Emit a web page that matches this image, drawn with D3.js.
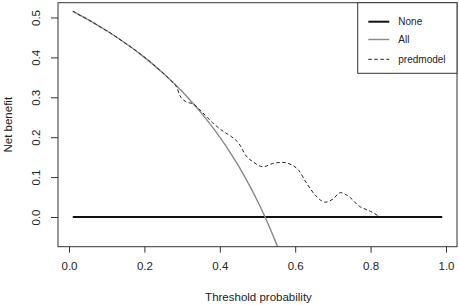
<!DOCTYPE html>
<html>
<head>
<meta charset="utf-8">
<script src="https://cdn.jsdelivr.net/npm/d3@7"></script>
<style>
  html, body { margin: 0; padding: 0; background: #fff; }
  svg { display: block; font-family: "Liberation Sans", Arial, sans-serif; }
</style>
</head>
<body>
<svg id="chart" width="459" height="305"></svg>
<script>
// ---- data ----
const noneThresholds = [0.01, 0.99];
const noneValues = [0, 0];

const allThresholds = [0.01, 0.05, 0.10, 0.15, 0.20, 0.25, 0.30, 0.325, 0.35, 0.375, 0.40, 0.425, 0.45, 0.475, 0.50, 0.52, 0.55, 0.56];
const allValues     = [0.5152, 0.4947, 0.4667, 0.4353, 0.4000, 0.3600, 0.3143, 0.2889, 0.2615, 0.2320, 0.2000, 0.1652, 0.1273, 0.0857, 0.0400, 0.0000, -0.0667, -0.0909];

const modelThresholds = [0.01, 0.03, 0.05, 0.07, 0.09, 0.11, 0.13, 0.15, 0.17, 0.19, 0.21, 0.23, 0.25, 0.27, 0.285, 0.295, 0.31, 0.33, 0.355, 0.38, 0.41, 0.43, 0.45, 0.47, 0.49, 0.515, 0.54, 0.565, 0.59, 0.61, 0.63, 0.655, 0.68, 0.70, 0.72, 0.74, 0.77, 0.80, 0.82];
const modelValues     = [0.516, 0.505, 0.495, 0.484, 0.472, 0.461, 0.448, 0.435, 0.422, 0.408, 0.393, 0.377, 0.360, 0.342, 0.326, 0.303, 0.289, 0.283, 0.261, 0.237, 0.214, 0.202, 0.185, 0.153, 0.137, 0.126, 0.134, 0.137, 0.131, 0.116, 0.085, 0.053, 0.037, 0.045, 0.061, 0.053, 0.027, 0.014, 0.003];

const xTicks = [0, 0.2, 0.4, 0.6, 0.8, 1.0];
const yTicks = [0, 0.1, 0.2, 0.3, 0.4, 0.5];
const legendLabels = ["None", "All", "predmodel"];

// ---- layout ----
const svg = d3.select("#chart");
const plot = { left: 58, right: 457, top: 2.7, bottom: 246.7 };
const x = d3.scaleLinear().domain([-0.0292, 1.0292]).range([plot.left, plot.right]);
const y = d3.scaleLinear().domain([-0.0744, 0.537]).range([plot.bottom, plot.top]);

svg.append("defs").append("clipPath").attr("id", "clip")
  .append("rect")
  .attr("x", plot.left).attr("y", plot.top)
  .attr("width", plot.right - plot.left).attr("height", plot.bottom - plot.top);

const fmt = d3.format(".1f");

// X axis
const xAxis = svg.append("g").attr("transform", `translate(0,${plot.bottom})`)
  .call(d3.axisBottom(x).tickValues(xTicks).tickFormat(fmt).tickSize(6).tickPadding(9));
xAxis.select(".domain").attr("d", `M${x(0)},0H${x(1)}`).attr("stroke", "#333");
xAxis.selectAll(".tick line").attr("stroke", "#333");
xAxis.selectAll(".tick text").attr("font-size", "11.5px").attr("fill", "#222")
  .attr("font-family", "Liberation Sans, Arial, sans-serif");
xAxis.select(".domain").remove();

// Y axis
const yAxis = svg.append("g").attr("transform", `translate(${plot.left},0)`)
  .call(d3.axisLeft(y).tickValues(yTicks).tickFormat(fmt).tickSize(7).tickPadding(9));
yAxis.select(".domain").remove();
yAxis.selectAll(".tick line").attr("stroke", "#333");
yAxis.selectAll(".tick text")
  .attr("font-size", "11.5px").attr("fill", "#222")
  .attr("font-family", "Liberation Sans, Arial, sans-serif")
  .attr("text-anchor", "middle")
  .attr("x", null).attr("dy", null)
  .attr("transform", "translate(-22,0) rotate(-90)")
  .attr("dominant-baseline", "central");

// Axis titles
svg.append("text").attr("x", (plot.left + plot.right) / 2 + 1).attr("y", 301)
  .attr("text-anchor", "middle").attr("font-size", "11.5px").attr("fill", "#222")
  .text("Threshold probability");
svg.append("text")
  .attr("transform", `translate(12,${(plot.top + plot.bottom) / 2}) rotate(-90)`)
  .attr("text-anchor", "middle").attr("font-size", "11.5px").attr("fill", "#222")
  .text("Net benefit");

// Lines
const g = svg.append("g").attr("clip-path", "url(#clip)");
const lineGen = d3.line().x(d => x(d[0])).y(d => y(d[1])).curve(d3.curveMonotoneX);

g.append("path")
  .datum(noneThresholds.map((t, i) => [t, noneValues[i]]))
  .attr("d", d3.line().x(d => x(d[0])).y(d => y(d[1])))
  .attr("fill", "none").attr("stroke", "#111").attr("stroke-width", 2);

g.append("path")
  .datum(allThresholds.map((t, i) => [t, allValues[i]]))
  .attr("d", lineGen)
  .attr("fill", "none").attr("stroke", "#888").attr("stroke-width", 1.4);

g.append("path")
  .datum(modelThresholds.map((t, i) => [t, modelValues[i]]))
  .attr("d", lineGen)
  .attr("fill", "none").attr("stroke", "#222").attr("stroke-width", 1)
  .attr("stroke-dasharray", "3.5,2.5");

// Plot box
svg.append("rect")
  .attr("x", plot.left).attr("y", plot.top)
  .attr("width", plot.right - plot.left).attr("height", plot.bottom - plot.top)
  .attr("fill", "none").attr("stroke", "#333").attr("stroke-width", 1);

// Legend
const leg = svg.append("g");
leg.append("rect").attr("x", 357.7).attr("y", plot.top)
  .attr("width", plot.right - 357.7).attr("height", 73.3 - plot.top)
  .attr("fill", "#fff").attr("stroke", "#333").attr("stroke-width", 1);
const legStyles = [
  { stroke: "#111", width: 2, dash: null },
  { stroke: "#888", width: 1.4, dash: null },
  { stroke: "#222", width: 1, dash: "3.5,2.5" }
];
const legY = [21.7, 39.5, 59.3];
legendLabels.forEach((lab, i) => {
  leg.append("line").attr("x1", 368.3).attr("x2", 389.3)
    .attr("y1", legY[i]).attr("y2", legY[i])
    .attr("stroke", legStyles[i].stroke).attr("stroke-width", legStyles[i].width)
    .attr("stroke-dasharray", legStyles[i].dash);
  leg.append("text").attr("x", 398.3).attr("y", legY[i])
    .attr("dominant-baseline", "central").attr("font-size", "10px").attr("fill", "#222")
    .text(lab);
});
</script>
</body>
</html>
